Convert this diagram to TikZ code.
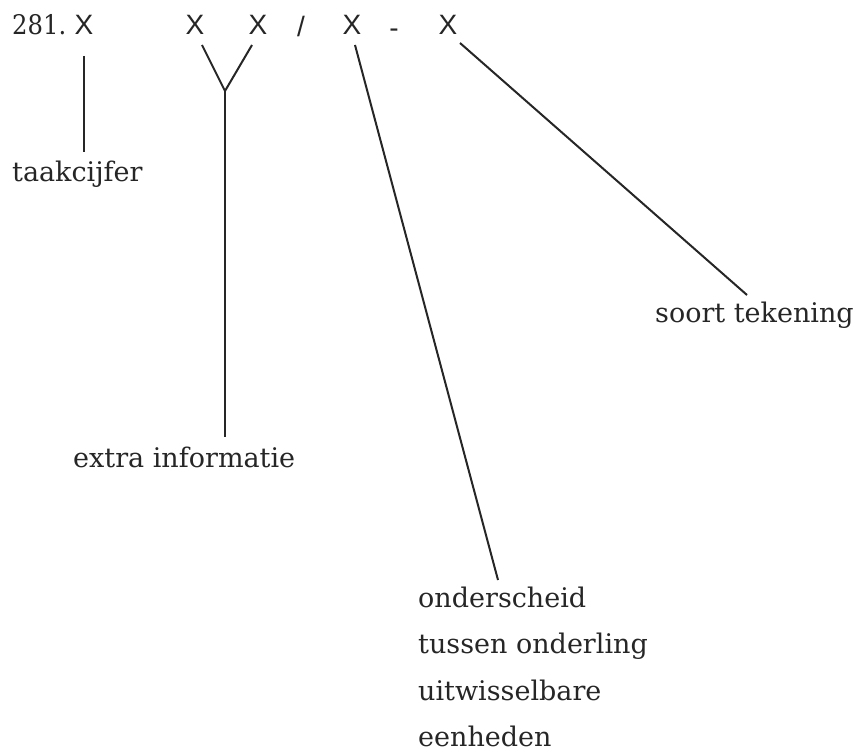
\documentclass[tikz,border=0pt]{standalone}
\usepackage{fontspec}
\setmainfont{DejaVu Serif}
\newfontfamily\codefont{Liberation Sans}
\newfontfamily\numfont{DejaVu Serif Condensed}
\definecolor{ink}{HTML}{262626}
\begin{document}
\begin{tikzpicture}[x=1pt,y=-1pt,
  lbl/.style={anchor=base west,inner sep=0pt,text=ink,font=\fontsize{27}{32}\selectfont},
  glyph/.style={anchor=base,inner sep=0pt,text=ink,font=\codefont\fontsize{28}{34}\selectfont},
  conn/.style={draw=ink,line width=2pt}]
\useasboundingbox (0,0) rectangle (854,751);

% drawing number
\node[anchor=base west,inner sep=0pt,text=ink,font=\numfont\fontsize{27}{32}\selectfont] (num) at (12,35) {281.};
\node[glyph] (x0) at (84,35) {X};
\node[glyph] (x1) at (195,35) {X};
\node[glyph] (x2) at (258,35) {X};
\node[glyph] (sl) at (301,37) {/};
\node[glyph] (x3) at (352,35) {X};
\node[glyph] (ds) at (394,38) {-};
\node[glyph] (x4) at (448,35) {X};

% labels
\node[lbl] (taak) at (12,182) {taakcijfer};
\node[lbl] (extra) at (73,467) {extra informatie};
\node[lbl] (soort) at (655,323) {soort tekening};
\node[lbl] (ond1) at (418,607) {onderscheid};
\node[lbl] (ond2) at (418,653) {tussen onderling};
\node[lbl] (ond3) at (418,700) {uitwisselbare};
\node[lbl] (ond4) at (418,746) {eenheden};

% connector end points
\coordinate (a0) at (84,56);
\coordinate (b0) at (84,152);
\coordinate (a1) at (202,45);
\coordinate (a2) at (252,45);
\coordinate (fork) at (225,91);
\coordinate (b12) at (225,437);
\coordinate (a3) at (355,45);
\coordinate (b3) at (498,580);
\coordinate (a4) at (460,43);
\coordinate (b4) at (747,295);

\draw[conn] (a0) -- (b0);
\draw[conn] (a1) -- (fork);
\draw[conn] (a2) -- (fork);
\draw[conn] (fork) -- (b12);
\draw[conn] (a3) -- (b3);
\draw[conn] (a4) -- (b4);
\end{tikzpicture}
\end{document}
